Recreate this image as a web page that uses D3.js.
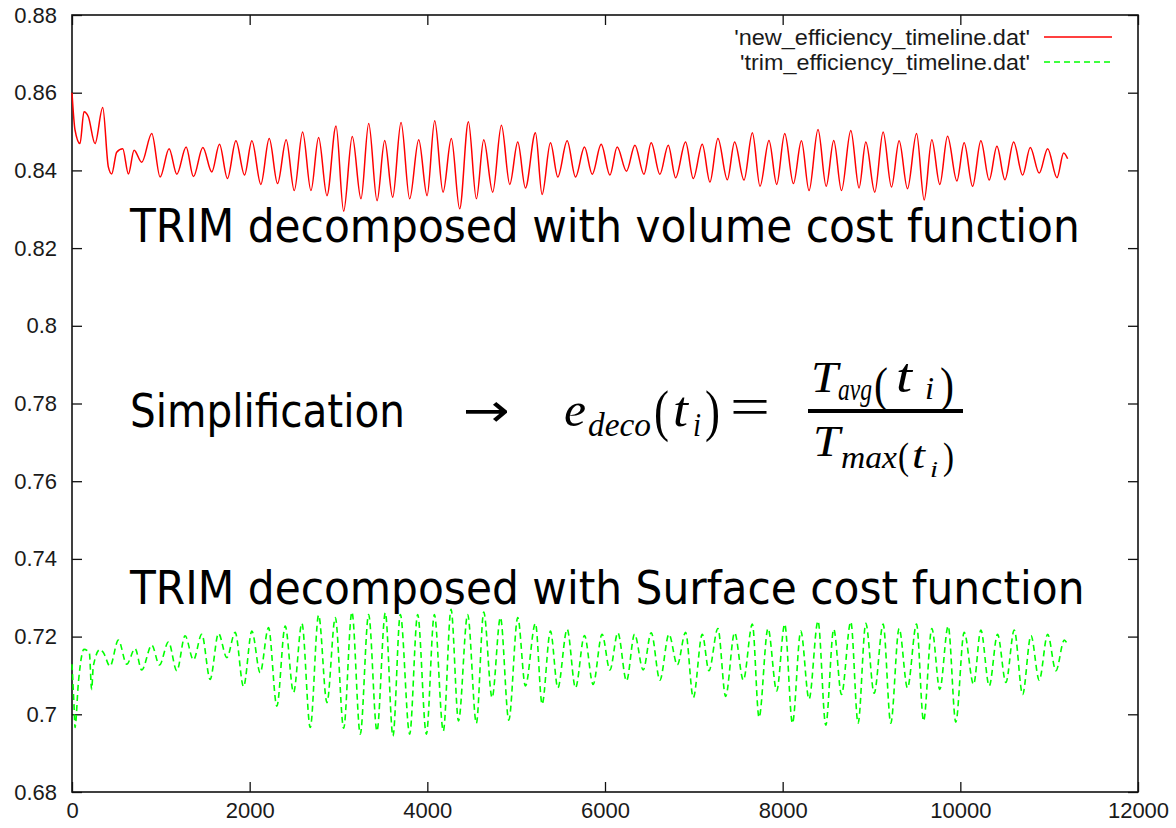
<!DOCTYPE html>
<html>
<head>
<meta charset="utf-8">
<script src="https://cdn.jsdelivr.net/npm/d3@7"></script>
<style>
  html, body { margin: 0; padding: 0; background: #fff; }
  svg { display: block; }
</style>
</head>
<body>
<svg id="chart" width="1176" height="828"></svg>
<script>
// ---------- data ----------
const xTicks = [0, 2000, 4000, 6000, 8000, 10000, 12000];
const yTicks = [0.68, 0.70, 0.72, 0.74, 0.76, 0.78, 0.80, 0.82, 0.84, 0.86, 0.88];
const legendLabels = ["'new_efficiency_timeline.dat'", "'trim_efficiency_timeline.dat'"];

// red series: 'new_efficiency_timeline.dat' (time step, efficiency)
const newEfficiency = [
  [0,0.8600],[34,0.8504],[90,0.8469],[135,0.8551],[184,0.8538],[259,0.8469],[346,0.8562],[409,0.8409],
  [447,0.8391],[503,0.8447],[571,0.8456],[635,0.8391],[699,0.8452],[785,0.8421],[898,0.8495],[992,0.8383],
  [1093,0.8456],[1180,0.8390],[1285,0.8460],[1367,0.8384],[1473,0.8459],[1574,0.8396],[1660,0.8467],[1750,0.8379],
  [1845,0.8476],[1942,0.8388],[2025,0.8476],[2126,0.8364],[2220,0.8482],[2314,0.8366],[2411,0.8479],[2502,0.8348],
  [2596,0.8499],[2690,0.8348],[2776,0.8485],[2870,0.8335],[2972,0.8514],[3058,0.8295],[3155,0.8487],[3253,0.8327],
  [3340,0.8521],[3434,0.8322],[3520,0.8477],[3610,0.8331],[3704,0.8523],[3801,0.8327],[3903,0.8479],[3997,0.8335],
  [4083,0.8528],[4177,0.8344],[4270,0.8482],[4364,0.8301],[4462,0.8525],[4552,0.8327],[4635,0.8479],[4736,0.8344],
  [4834,0.8516],[4928,0.8364],[5018,0.8473],[5104,0.8355],[5217,0.8497],[5292,0.8338],[5386,0.8471],[5469,0.8383],
  [5574,0.8476],[5668,0.8383],[5769,0.8460],[5856,0.8390],[5957,0.8467],[6055,0.8388],[6137,0.8460],[6242,0.8398],
  [6337,0.8465],[6438,0.8390],[6520,0.8471],[6618,0.8390],[6712,0.8465],[6795,0.8381],[6907,0.8473],[6994,0.8379],
  [7095,0.8467],[7181,0.8370],[7271,0.8482],[7377,0.8376],[7459,0.8473],[7565,0.8375],[7659,0.8497],[7745,0.8359],
  [7846,0.8477],[7933,0.8364],[8023,0.8495],[8121,0.8366],[8211,0.8476],[8297,0.8348],[8398,0.8505],[8490,0.8359],
  [8575,0.8477],[8662,0.8348],[8767,0.8503],[8860,0.8355],[8936,0.8473],[9037,0.8344],[9131,0.8499],[9225,0.8357],
  [9311,0.8476],[9405,0.8353],[9507,0.8495],[9593,0.8324],[9679,0.8479],[9769,0.8364],[9856,0.8488],[9961,0.8373],
  [10043,0.8471],[10138,0.8359],[10231,0.8476],[10325,0.8375],[10412,0.8462],[10502,0.8376],[10600,0.8473],[10701,0.8388],
  [10787,0.8459],[10888,0.8393],[10983,0.8456],[11088,0.8381],[11163,0.8445],[11208,0.8430]
];

// green series: 'trim_efficiency_timeline.dat' (time step, efficiency)
const trimEfficiency = [
  [0,0.7129],[23,0.7021],[34,0.6966],[72,0.7082],[135,0.7167],[195,0.7159],[221,0.7064],[240,0.7124],
  [316,0.7167],[353,0.7159],[428,0.7124],[522,0.7191],[616,0.7129],[710,0.7169],[785,0.7114],[898,0.7178],
  [984,0.7127],[1086,0.7186],[1180,0.7112],[1273,0.7202],[1367,0.7140],[1461,0.7206],[1555,0.7090],[1649,0.7208],
  [1743,0.7146],[1837,0.7211],[1931,0.7071],[2025,0.7214],[2118,0.7107],[2212,0.7223],[2306,0.7021],[2400,0.7227],
  [2494,0.7056],[2588,0.7234],[2682,0.6966],[2776,0.7255],[2870,0.7030],[2964,0.7249],[3058,0.6964],[3151,0.7263],
  [3245,0.6949],[3339,0.7257],[3433,0.6957],[3527,0.7261],[3613,0.6944],[3696,0.7257],[3801,0.6949],[3891,0.7257],
  [3989,0.6949],[4079,0.7257],[4180,0.6957],[4267,0.7270],[4351,0.6983],[4454,0.7257],[4552,0.6977],[4635,0.7263],
  [4729,0.7043],[4823,0.7249],[4917,0.6985],[5018,0.7249],[5104,0.7073],[5217,0.7234],[5292,0.7026],[5386,0.7214],
  [5469,0.7068],[5574,0.7219],[5668,0.7068],[5769,0.7203],[5866,0.7077],[5967,0.7206],[6055,0.7114],[6145,0.7210],
  [6242,0.7086],[6333,0.7206],[6430,0.7114],[6520,0.7210],[6618,0.7088],[6720,0.7206],[6814,0.7127],[6907,0.7211],
  [6994,0.7043],[7095,0.7206],[7170,0.7112],[7271,0.7221],[7358,0.7046],[7459,0.7210],[7557,0.7088],[7659,0.7232],
  [7734,0.6992],[7835,0.7221],[7933,0.7060],[8023,0.7232],[8110,0.6977],[8204,0.7214],[8297,0.7039],[8398,0.7240],
  [8485,0.6972],[8575,0.7219],[8662,0.7051],[8767,0.7238],[8849,0.6977],[8936,0.7234],[9030,0.7054],[9131,0.7232],
  [9217,0.6977],[9311,0.7221],[9405,0.7068],[9507,0.7232],[9586,0.6983],[9679,0.7221],[9769,0.7064],[9863,0.7227],
  [9949,0.6980],[10043,0.7211],[10149,0.7077],[10231,0.7217],[10325,0.7073],[10419,0.7206],[10513,0.7082],[10607,0.7217],
  [10701,0.7051],[10795,0.7203],[10888,0.7088],[10983,0.7206],[11076,0.7112],[11170,0.7191],[11200,0.7183]
];

const annotationTop = "TRIM decomposed with volume cost function";
const annotationMid = "Simplification";
const annotationBottom = "TRIM decomposed with Surface cost function";

// ---------- chart ----------
const svg = d3.select("#chart");
svg.append("rect").attr("width", 1176).attr("height", 828).attr("fill", "#fff");

const L = 72, R = 1138, T = 15, B = 792;
const x = d3.scaleLinear().domain([0, 12000]).range([L, R]);
const y = d3.scaleLinear().domain([0.68, 0.88]).range([B, T]);
const fmtY = d => String(+d.toFixed(2));

const tickFont = "'Liberation Sans', Arial, sans-serif";

function styleAxis(g, showLabels) {
  g.select(".domain").remove();
  g.selectAll(".tick line").attr("stroke", "#111").attr("stroke-width", 1.3);
  g.selectAll(".tick text")
    .attr("font-family", tickFont).attr("font-size", 22).attr("fill", "#1a1a1a");
  if (!showLabels) g.selectAll(".tick text").remove();
}

svg.append("g").attr("transform", `translate(${L},0)`)
  .call(d3.axisLeft(y).tickValues(yTicks).tickFormat(fmtY).tickSizeInner(-10).tickSizeOuter(0).tickPadding(15))
  .call(g => styleAxis(g, true));
svg.append("g").attr("transform", `translate(${R},0)`)
  .call(d3.axisRight(y).tickValues(yTicks).tickSizeInner(-10).tickSizeOuter(0))
  .call(g => styleAxis(g, false));
svg.append("g").attr("transform", `translate(0,${B})`)
  .call(d3.axisBottom(x).tickValues(xTicks).tickFormat(d3.format("d")).tickSizeInner(-10).tickSizeOuter(0).tickPadding(10))
  .call(g => styleAxis(g, true));
svg.append("g").attr("transform", `translate(0,${T})`)
  .call(d3.axisTop(x).tickValues(xTicks).tickSizeInner(-10).tickSizeOuter(0))
  .call(g => styleAxis(g, false));

svg.append("rect").attr("x", L).attr("y", T).attr("width", R - L).attr("height", B - T)
  .attr("fill", "none").attr("stroke", "#111").attr("stroke-width", 1.6);

const line = d3.line().x(d => x(d[0])).y(d => y(d[1])).curve(d3.curveMonotoneX);

svg.append("path").datum(newEfficiency).attr("d", line)
  .attr("fill", "none").attr("stroke", "#ff0000").attr("stroke-width", 1.5);
svg.append("path").datum(trimEfficiency).attr("d", line)
  .attr("fill", "none").attr("stroke", "#00ff00").attr("stroke-width", 1.6)
  .attr("stroke-dasharray", "6,4");

// helper: text placed at (x0, y0) whose width is fitted to w by a horizontal scale
function fitText(str, x0, y0, w, font, size, italic, anchorEnd) {
  const g = svg.append("g");
  const t = g.append("text").attr("x", 0).attr("y", 0)
    .attr("font-family", font).attr("font-size", size)
    .attr("font-style", italic ? "italic" : "normal").attr("fill", "#000").text(str);
  const nat = t.node().getComputedTextLength();
  const s = w ? w / nat : 1;
  if (anchorEnd) t.attr("text-anchor", "end");
  g.attr("transform", `translate(${x0},${y0}) scale(${s},1)`);
  return t;
}

// legend
const legendColors = ["#ff0000", "#00ff00"];
const legendDash = [null, "6,4"];
const legendY = [37, 62];
const legendW = [296, 290];
legendLabels.forEach((lab, i) => {
  fitText(lab, 1030, legendY[i] + 8, legendW[i], tickFont, 22, false, true).attr("fill", "#1a1a1a");
  svg.append("line").attr("x1", 1044).attr("x2", 1112).attr("y1", legendY[i]).attr("y2", legendY[i])
    .attr("stroke", legendColors[i]).attr("stroke-width", 1.4)
    .attr("stroke-dasharray", legendDash[i]);
});

// annotations
const bigFont = "Tahoma, 'DejaVu Sans', Verdana, sans-serif";
fitText(annotationTop, 130, 242, 950, bigFont, 47, false);
fitText(annotationMid, 130, 427, 275, bigFont, 47, false);
fitText(annotationBottom, 130, 604, 955, bigFont, 47, false);
fitText("→", 463, 426, 47, "'DejaVu Sans', sans-serif", 46, false);

// formula  e_deco(t_i) = T_avg(t_i) / T_max(t_i)
const mathFont = "'Liberation Serif', 'Times New Roman', serif";
function m(str, x0, y0, w, size, italic) {
  return fitText(str, x0, y0, w, mathFont, size, italic);
}
m("e", 564, 426, 22, 48, true);
m("deco", 588, 436, 63, 34, true);
m("(", 654, 430, 15, 56, false);
m("t", 673, 426, 15, 50, true);
m("i", 693, 436, 8, 34, true);
m(")", 705, 430, 15, 56, false);
m("=", 730, 425, 40, 54, false);
svg.append("line").attr("x1", 808).attr("x2", 963).attr("y1", 411).attr("y2", 411)
  .attr("stroke", "#000").attr("stroke-width", 4);
// numerator
m("T", 811, 392, 27, 44, true);
m("avg", 838, 400, 34, 32, true);
m("(", 874, 401, 14, 48, false);
m("t", 896, 392, 16, 48, true);
m("i", 925, 399, 9, 32, true);
m(")", 940, 401, 14, 48, false);
// denominator
m("T", 813, 456, 27, 44, true);
m("max", 841, 468, 56, 32, true);
m("(", 898, 469, 11, 38, false);
m("t", 912, 468, 13, 38, true);
m("i", 930, 477, 8, 24, true);
m(")", 943, 469, 11, 38, false);
</script>
</body>
</html>
